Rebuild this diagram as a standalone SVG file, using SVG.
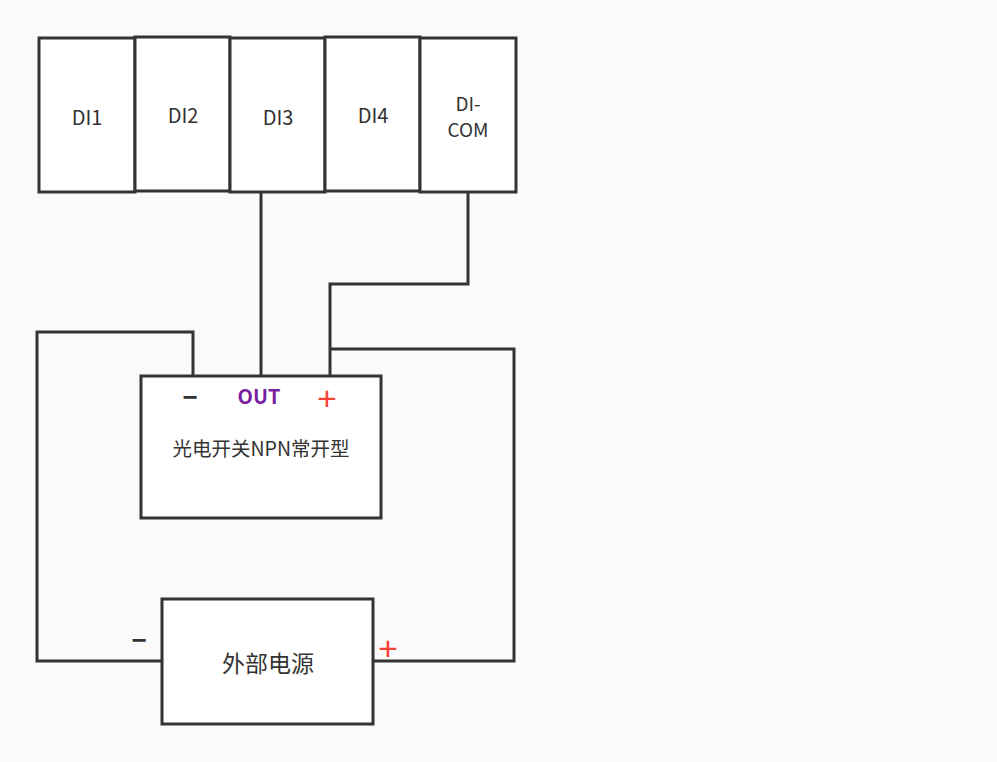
<svg xmlns="http://www.w3.org/2000/svg" width="997" height="762" viewBox="0 0 997 762">
<style>
.box{fill:#fff;stroke:#333;stroke-width:3}
.w{fill:none;stroke:#333;stroke-width:3}
.t{font-family:"Noto Sans CJK SC","Noto Sans",sans-serif;fill:#333;text-anchor:middle;dominant-baseline:central}
.p{font-family:"Liberation Sans",sans-serif;fill:#f44336;text-anchor:middle;dominant-baseline:central;font-size:34px}
.m{font-family:"Liberation Sans",sans-serif;fill:#333;text-anchor:middle;dominant-baseline:central;font-size:26px;font-weight:bold}
</style>
<rect x="0" y="0" width="997" height="762" fill="#fafafa"/>
<g id="connectors">
<path class="w" d="M261 192V376"/>
<path class="w" d="M468 192V284H330V376"/>
<path class="w" d="M330 349H514V661H373"/>
<path class="w" d="M193 376V332H37V661H162"/>
</g>
<g id="di1"><rect class="box" x="39" y="38" width="96" height="154"/><text class="t" x="87" y="116" font-size="20">DI1</text></g>
<g id="di2"><rect class="box" x="135" y="37" width="95" height="154"/><text class="t" x="183" y="114" font-size="20">DI2</text></g>
<g id="di3"><rect class="box" x="230" y="38" width="95" height="154"/><text class="t" x="278" y="116" font-size="20">DI3</text></g>
<g id="di4"><rect class="box" x="325" y="37" width="95" height="154"/><text class="t" x="373" y="114" font-size="20">DI4</text></g>
<g id="dicom"><rect class="box" x="420" y="38" width="96" height="154"/><text class="t" x="468" y="102" font-size="19">DI-</text><text class="t" x="468" y="128" font-size="19">COM</text></g>
<g id="sensor"><rect class="box" x="141" y="376" width="240" height="142"/>
<text class="m" x="190" y="397">−</text>
<text class="t" x="259" y="395" font-size="20" font-weight="bold" style="fill:#7b1fa2">OUT</text>
<text class="p" x="327" y="398">+</text>
<text class="t" x="261" y="447" font-size="19.5">光电开关NPN常开型</text>
</g>
<g id="power"><rect class="box" x="162" y="599" width="211" height="125"/>
<text class="t" x="268" y="662" font-size="23">外部电源</text>
<text class="m" x="139" y="640">−</text>
<text class="p" x="388" y="648">+</text>
</g>
</svg>
